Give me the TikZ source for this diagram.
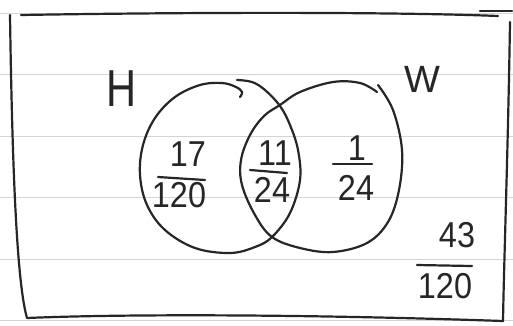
\documentclass[tikz,border=0pt]{standalone}
\usepackage{fontspec}
\setmainfont{Liberation Sans}
\definecolor{ink}{HTML}{262626}
\definecolor{rule}{HTML}{D4D4D4}
\tikzset{
  pen/.style={draw=ink, line width=2.2pt, line cap=round, line join=round},
  ruling/.style={draw=rule, line width=1pt},
  num/.style={text=ink, inner sep=0pt, xscale=0.9, font=\fontsize{36}{36}\selectfont},
  lab/.style={text=ink, inner sep=0pt},
}
\begin{document}
\begin{tikzpicture}[x=1pt, y=-1pt]
\useasboundingbox (0,0) rectangle (513,325);
\fill[white] (0,0) rectangle (513,325);
% notebook rulings
\foreach \yy in {13,74.5,136,197.5,259,320.5}
  \draw[ruling] (0,\yy) -- (513,\yy);
% frame
\draw[pen] (21,15) .. controls (200,12) and (400,12) .. (498,16);
\draw[pen] (480,11) -- (512,11);
\draw[pen] (10,15) .. controls (12,150) and (16,280) .. (27,318)
            .. controls (120,314) and (300,314) .. (503,321);
\draw[pen] (510,22) .. controls (508,150) and (504,260) .. (503,321);
% circle H
\draw[pen] plot[smooth, tension=0.6] coordinates {
  (240,97) (242,92) (236,87) (222,83) (200,85) (175,97) (155,118) (143,145)
  (140,175) (147,205) (165,230) (195,248) (230,253) (255,247) (272,237)
  (290,213) (300,180) (298,150) (290,125) (280,106) (265,90) (252,82) (237,80)};
% circle W
\draw[pen] plot[smooth, tension=0.6] coordinates {
  (378,85) (393,110) (402,150) (399,190) (388,222) (367,243) (333,252)
  (300,248) (272,237) (255,215) (242,185) (241,160) (250,135) (264,116)
  (280,105) (300,92) (333,82) (360,83) (377,92)};
% set labels
\node[lab, xscale=0.8, font=\fontsize{52}{52}\selectfont] (h) at (122,89) {H};
\node[lab, font=\fontsize{38}{38}\selectfont] (w) at (422,79) {W};
% H only
\node[num] (n1) at (188,154) {17};
\node[num] (d1) at (179,195) {120};
\coordinate (b1a) at (158,177); \coordinate (b1b) at (205,180);
\draw[pen] (b1a) -- (b1b);
% intersection
\node[num] (n2) at (275,153) {11};
\node[num] (d2) at (272,190) {24};
\coordinate (b2a) at (250,170); \coordinate (b2b) at (287,173);
\draw[pen] (b2a) -- (b2b);
% W only
\node[num] (n3) at (357,148) {1};
\node[num] (d3) at (356,188) {24};
\coordinate (b3a) at (333,164); \coordinate (b3b) at (372,164);
\draw[pen] (b3a) -- (b3b);
% outside
\node[num] (n4) at (457,235) {43};
\node[num] (d4) at (445,286) {120};
\coordinate (b4a) at (417,265); \coordinate (b4b) at (472,266);
\draw[pen] (b4a) -- (b4b);
\end{tikzpicture}
\end{document}
